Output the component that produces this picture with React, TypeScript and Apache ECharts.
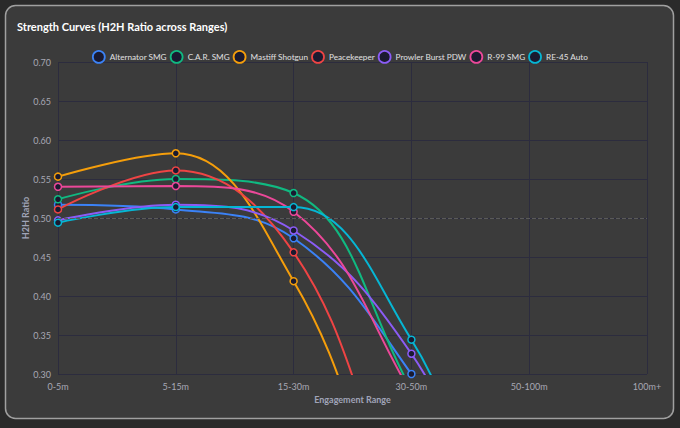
import React, { useEffect, useRef } from "react";
import * as echarts from "echarts";

const categories = ["0-5m", "5-15m", "15-30m", "30-50m", "50-100m", "100m+"];
const seriesNames = [
  "Alternator SMG",
  "C.A.R. SMG",
  "Mastiff Shotgun",
  "Peacekeeper",
  "Prowler Burst PDW",
  "R-99 SMG",
  "RE-45 Auto",
];
const alternator = [0.517, 0.511, 0.474, 0.3, 0.05, 0.0];
const car = [0.524, 0.55, 0.532, 0.28, 0.0, -0.05];
const mastiff = [0.553, 0.583, 0.419, 0.07, -0.1, -0.15];
const peacekeeper = [0.511, 0.561, 0.456, 0.12, -0.05, -0.1];
const prowler = [0.497, 0.517, 0.484, 0.326, 0.045, 0.0];
const r99 = [0.54, 0.541, 0.508, 0.275, 0.0, -0.05];
const re45 = [0.494, 0.514, 0.514, 0.344, 0.035, 0.0];
const seriesValues = [alternator, car, mastiff, peacekeeper, prowler, r99, re45];
const colors = ["#3b82f6", "#10b981", "#f59e0b", "#ef4444", "#8b5cf6", "#ec4899", "#06b6d4"];
const yTicks = { min: 0.3, max: 0.7, interval: 0.05 };
const referenceLine = 0.5;

const FONT = "Lato, 'Open Sans', sans-serif";

export default function App() {
  const ref = useRef<HTMLDivElement>(null);
  useEffect(() => {
    document.body.style.margin = "0";
    document.body.style.background = "#2a2a2a";
    const chart = echarts.init(ref.current!, undefined, { renderer: "svg" });
    chart.setOption({
      animation: false,
      backgroundColor: "#2a2a2a",
      textStyle: { fontFamily: FONT },
      graphic: [
        {
          type: "rect",
          z: -10,
          silent: true,
          shape: { x: 5.5, y: 5.5, width: 668, height: 413, r: 10 },
          style: { fill: "#3b3b3b", stroke: "#a0a0a0", lineWidth: 1.5 },
        },
      ],
      title: {
        text: "Strength Curves (H2H Ratio across Ranges)",
        left: 12,
        top: 16,
        textStyle: { color: "#ffffff", fontSize: 11, fontWeight: "bold", fontFamily: FONT },
      },
      legend: {
        top: 45,
        left: "center",
        itemWidth: 12,
        itemHeight: 12,
        itemGap: 3,
        itemTextGap: 3,
        icon: "circle",
        itemStyle: { color: "#1a1a30", borderColor: "inherit", borderWidth: 1.8 },
        textStyle: { color: "#e0e0e0", fontSize: 8.2, fontFamily: FONT },
        data: seriesNames,
      },
      grid: { left: 58, right: 33, top: 62, bottom: 54 },
      xAxis: {
        type: "category",
        data: categories,
        boundaryGap: false,
        name: "Engagement Range",
        nameLocation: "middle",
        nameGap: 21,
        nameMoveOverlap: false,
        nameTextStyle: { color: "#a0a4b8", fontSize: 9, fontWeight: "bold" },
        axisLine: { show: false },
        axisTick: { show: false },
        axisLabel: { color: "#a8a8b4", fontSize: 9, margin: 8 },
        splitLine: { show: true, lineStyle: { color: "#2c2c3e", width: 1 } },
      },
      yAxis: {
        type: "value",
        min: yTicks.min,
        max: yTicks.max,
        interval: yTicks.interval,
        name: "H2H Ratio",
        nameLocation: "middle",
        nameGap: 28,
        nameMoveOverlap: false,
        nameTextStyle: { color: "#a0a4b8", fontSize: 9, fontWeight: "bold" },
        axisLine: { show: false },
        axisTick: { show: false },
        axisLabel: {
          color: "#a8a8b4",
          fontSize: 9,
          margin: 7,
          formatter: (v: number) => v.toFixed(2),
        },
        splitLine: { show: true, lineStyle: { color: "#2c2c3e", width: 1 } },
      },
      series: seriesNames.map((name, i) => ({
        name,
        type: "line",
        data: seriesValues[i],
        smooth: 0.4,
        clip: true,
        symbol: "circle",
        symbolSize: 7,
        lineStyle: { color: colors[i], width: 2 },
        itemStyle: { color: "#1a1a30", borderColor: colors[i], borderWidth: 1.5 },
        markLine:
          i === 0
            ? {
                silent: true,
                symbol: "none",
                label: { show: false },
                lineStyle: { color: "#5a5a5a", type: "dashed", width: 1 },
                data: [{ yAxis: referenceLine }],
              }
            : undefined,
      })),
    });
    return () => chart.dispose();
  }, []);
  return <div ref={ref} style={{ width: 680, height: 428 }} />;
}
